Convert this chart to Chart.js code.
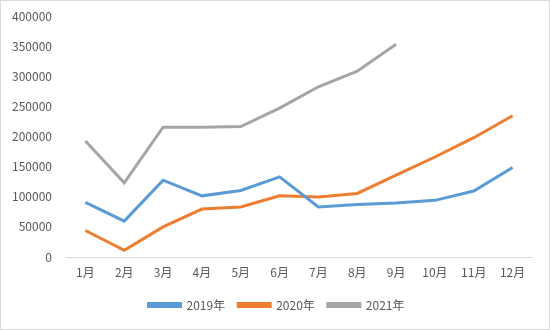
<!DOCTYPE html>
<html>
<head>
<meta charset="utf-8">
<script src="https://cdn.jsdelivr.net/npm/chart.js@4"></script>
<style>
  html, body { margin: 0; padding: 0; background: #fff; }
  #wrap { width: 550px; height: 330px; box-sizing: border-box; border: 1px solid #d9d9d9; }
</style>
</head>
<body>
<div id="wrap"><canvas id="salesChart" width="548" height="328"></canvas></div>
<script>
// monthly figures for three years
const months = ['1月', '2月', '3月', '4月', '5月', '6月', '7月', '8月', '9月', '10月', '11月', '12月'];
const values2019 = [90500, 59500, 127500, 101500, 110500, 133000, 83000, 87000, 89500, 94000, 109500, 148500];
const values2020 = [44000, 11000, 50000, 79500, 83000, 101500, 99500, 105500, 136000, 166000, 198000, 234500];
const values2021 = [192500, 123000, 215500, 215500, 216500, 247000, 282500, 308500, 353000];
const yTicks = [0, 50000, 100000, 150000, 200000, 250000, 300000, 350000, 400000];

const textColor = '#595959';
const fontFamily = '"Noto Sans CJK SC", "Noto Sans", sans-serif';

function lineSet(label, data, color) {
  return {
    label: label,
    data: data,
    borderColor: color,
    backgroundColor: color,
    borderWidth: 3,
    pointRadius: 0,
    tension: 0,
    fill: false
  };
}

// the legend row sits a bit right of the canvas middle
const nudgeLegend = {
  id: 'nudgeLegend',
  afterLayout(chart) {
    chart.legend.left += 7;
    chart.legend.right += 7;
  }
};

new Chart(document.getElementById('salesChart'), {
  type: 'line',
  data: {
    labels: months,
    datasets: [
      lineSet('2019年', values2019, '#5b9bd5'),
      lineSet('2020年', values2020, '#ed7d31'),
      lineSet('2021年', values2021, '#a5a5a5')
    ]
  },
  plugins: [nudgeLegend],
  options: {
    responsive: false,
    animation: false,
    layout: { padding: { left: 6, right: 17, top: 15, bottom: 8 } },
    plugins: {
      tooltip: { enabled: false },
      legend: {
        position: 'bottom',
        labels: {
          boxWidth: 32,
          boxHeight: 3,
          color: textColor,
          font: { family: fontFamily, size: 12 },
          padding: 13
        }
      }
    },
    scales: {
      x: {
        offset: true,
        grid: { display: false, drawTicks: false },
        border: { display: true, color: '#d9d9d9', width: 1 },
        afterFit: axis => { axis.height = 29; },
        ticks: { color: textColor, font: { family: fontFamily, size: 12 }, padding: 8, maxRotation: 0 }
      },
      y: {
        min: 0,
        max: 400000,
        grid: { display: false, drawTicks: false },
        border: { display: false },
        afterBuildTicks: axis => { axis.ticks = yTicks.map(v => ({ value: v })); },
        afterFit: axis => {
          axis.width = 59;
          axis.paddingTop = 0;
          axis.paddingBottom = 0;
        },
        ticks: {
          color: textColor,
          font: { family: fontFamily, size: 12 },
          padding: 14,
          callback: v => String(v)
        }
      }
    }
  }
});
</script>
</body>
</html>
